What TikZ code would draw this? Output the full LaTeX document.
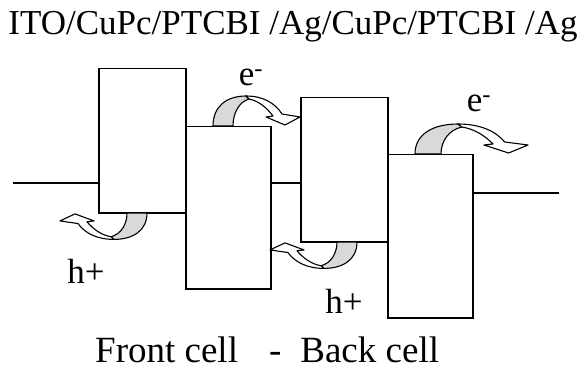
\documentclass[tikz,border=0pt]{standalone}
\usepackage{fontspec}
\setmainfont{Liberation Serif}
\usepackage{tikz}
\usetikzlibrary{positioning,calc}
\tikzset{
  layer/.style={draw,line width=1.5pt,fill=white,inner sep=0pt,anchor=north west},
  contact/.style={line width=1.5pt},
  caption/.style={font=\fontsize{35}{40}\selectfont,inner sep=0pt,anchor=base},
  carrier/.style={font=\fontsize{35}{40}\selectfont,inner sep=0pt,anchor=base},
  hop/.pic={
    \draw[line width=1.1pt,fill=gray!30] (0,0) .. controls (0,-20) and (14,-30) .. (33,-30)
      -- (36,-27) .. controls (26,-24) and (20,-13) .. (20,0) -- cycle;
    \draw[line width=1.1pt,fill=white,line join=round] (33,-30) .. controls (50,-30) and (62,-23) .. (69,-12)
      -- (87,-9) -- (72,-1) -- (53,-9) -- (60,-10)
      .. controls (54,-18) and (46,-25) .. (36,-27) -- cycle;
  },
}

\begin{document}
\begin{tikzpicture}[x=1pt,y=-1pt]
\useasboundingbox (0,0) rectangle (580,366);
\node[caption] (stack) at (293,35) {ITO/CuPc/PTCBI /Ag/CuPc/PTCBI /Ag};
% energy levels of the four layers
\node[layer,minimum width=87pt,minimum height=144pt] (cupc1) at (98,68) {};
\node[layer,minimum width=85pt,minimum height=162pt] (ptcbi1) at (185,126) {};
\node[layer,minimum width=87pt,minimum height=144pt] (cupc2) at (300,97) {};
\node[layer,minimum width=85pt,minimum height=163pt] (ptcbi2) at (387,154) {};
% electrodes
\coordinate (ito) at (13,183);
\coordinate (agout) at (559,193);
\draw[contact] (ito) -- (ito -| cupc1.west);
\draw[contact] (ptcbi1.east |- ito) -- (cupc2.west |- ito);
\draw[contact] (ptcbi2.east |- agout) -- (agout);
% charge transfer
\pic at (213,126) {hop};
\pic[xscale=1.3] at (415,154) {hop};
\pic[rotate=180,yscale=0.88] at (147,213) {hop};
\pic[rotate=180,yscale=0.88] at (357,242) {hop};
\node[carrier] (e1) at (251,86) {e\textsuperscript{-}};
\node[carrier] (e2) at (479,112) {e\textsuperscript{-}};
\node[carrier] (h1) at (86,283) {h+};
\node[carrier] (h2) at (344,313) {h+};
\node[caption,anchor=base west,text depth=0pt,font=\fontsize{37}{40}\selectfont] (cells) at (95,362)
  {Front cell\hspace{31pt}-\hspace{19pt}Back cell};
\end{tikzpicture}
\end{document}
